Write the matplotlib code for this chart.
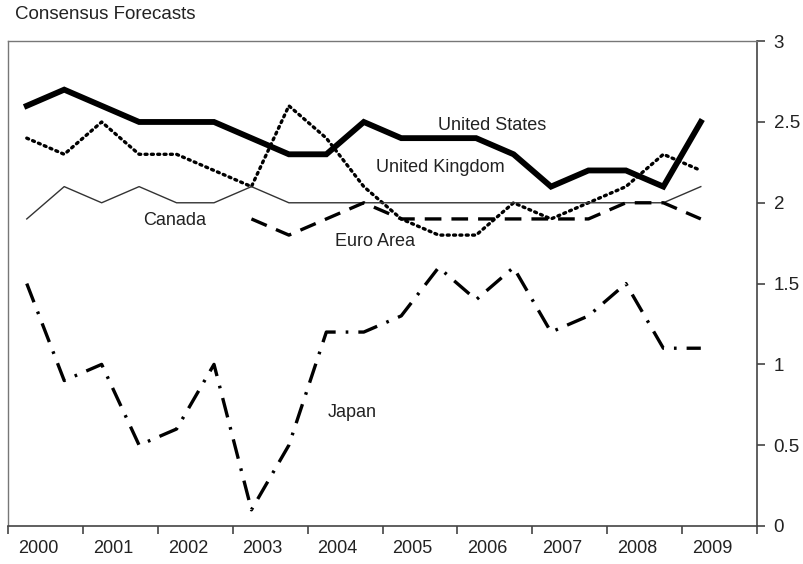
import numpy as np
import matplotlib
matplotlib.use("Agg")
import matplotlib.pyplot as plt

plt.rcParams['font.family'] = ['Liberation Sans', 'DejaVu Sans']

years = ["2000", "2001", "2002", "2003", "2004", "2005", "2006", "2007", "2008", "2009"]
# semiannual surveys, 2000 H1 ... 2009 H1
united_states = [2.6, 2.7, 2.6, 2.5, 2.5, 2.5, 2.4, 2.3, 2.3, 2.5, 2.4, 2.4, 2.4, 2.3, 2.1, 2.2, 2.2, 2.1, 2.5]
united_kingdom = [2.4, 2.3, 2.5, 2.3, 2.3, 2.2, 2.1, 2.6, 2.4, 2.1, 1.9, 1.8, 1.8, 2.0, 1.9, 2.0, 2.1, 2.3, 2.2]
canada = [1.9, 2.1, 2.0, 2.1, 2.0, 2.0, 2.1, 2.0, 2.0, 2.0, 2.0, 2.0, 2.0, 2.0, 2.0, 2.0, 2.0, 2.0, 2.1]
euro_area = [np.nan] * 6 + [1.9, 1.8, 1.9, 2.0, 1.9, 1.9, 1.9, 1.9, 1.9, 1.9, 2.0, 2.0, 1.9]
japan = [1.5, 0.9, 1.0, 0.5, 0.6, 1.0, 0.1, 0.5, 1.2, 1.2, 1.3, 1.6, 1.4, 1.6, 1.2, 1.3, 1.5, 1.1, 1.1]

x = np.arange(len(united_states)) * 0.5 + 0.25

fig = plt.figure(figsize=(8.04, 5.64), dpi=100)
ax = fig.add_axes([0.01, 0.0674, 0.9315, 0.8596])

ax.plot(x, united_states, color='black', lw=4.2, solid_joinstyle='miter')
ax.plot(x, united_kingdom, color='black', lw=2.4, linestyle=(0, (0.6, 1.3)), dash_capstyle='round')
ax.plot(x, canada, color='#333333', lw=1.0)
ax.plot(x, euro_area, color='black', lw=2.4, linestyle=(0, (5, 3)))
ax.plot(x, japan, color='black', lw=2.4, linestyle=(0, (6, 3, 0.8, 3)))

fs = 13
tc = '#222222'
ax.text(6.46, 2.48, "United States", fontsize=fs, ha='center', va='center', color=tc)
ax.text(5.77, 2.22, "United Kingdom", fontsize=fs, ha='center', va='center', color=tc)
ax.text(2.22, 1.89, "Canada", fontsize=fs, ha='center', va='center', color=tc)
ax.text(4.9, 1.76, "Euro Area", fontsize=fs, ha='center', va='center', color=tc)
ax.text(4.6, 0.70, "Japan", fontsize=fs, ha='center', va='center', color=tc)

ax.set_xlim(0, 10)
ax.set_ylim(0, 3)
ax.yaxis.tick_right()
ax.set_yticks([0, 0.5, 1, 1.5, 2, 2.5, 3])
ax.set_yticklabels(["0", "0.5", "1", "1.5", "2", "2.5", "3"])
ax.set_xticks(np.arange(0, 11))
ax.set_xticklabels([])
ax.set_xticks(np.arange(10) + 0.4, minor=True)
ax.set_xticklabels(years, minor=True)
ax.tick_params(axis='x', which='major', direction='out', length=6, width=1.2, color='#444444')
ax.tick_params(axis='x', which='minor', length=0, labelsize=fs, pad=10, labelcolor=tc)
ax.tick_params(axis='y', direction='out', length=6, width=1.2, color='#444444', labelsize=13.5, pad=6,
               labelcolor=tc)

for side in ['left', 'top']:
    ax.spines[side].set_color('#777777')
    ax.spines[side].set_linewidth(1.0)
for side in ['right', 'bottom']:
    ax.spines[side].set_color('#444444')
    ax.spines[side].set_linewidth(1.2)

fig.text(0.019, 0.975, "Consensus Forecasts", fontsize=13.5, ha='left', va='center', color=tc)

fig.savefig("out.png", dpi=100)
